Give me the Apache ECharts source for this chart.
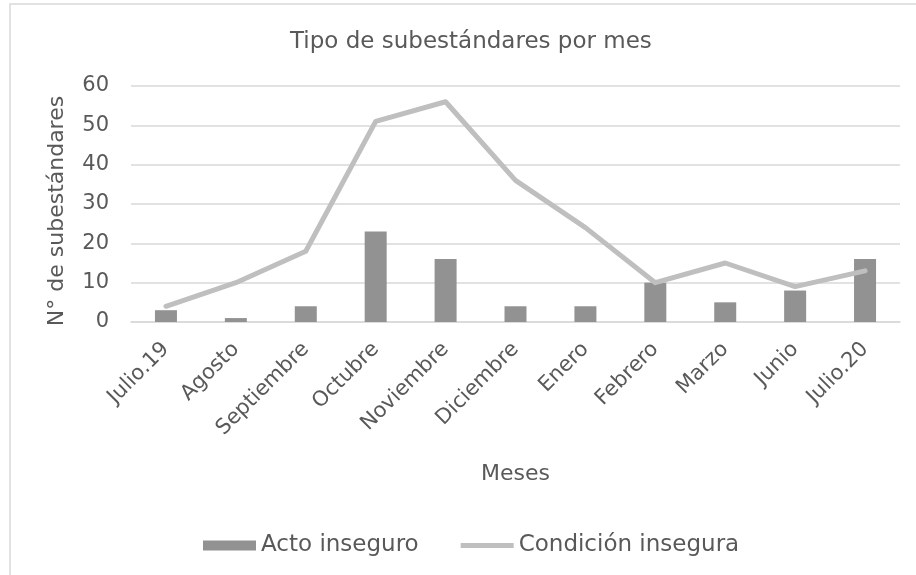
<!DOCTYPE html>
<html>
<head>
<meta charset="utf-8">
<script src="https://cdn.jsdelivr.net/npm/echarts@6/dist/echarts.min.js"></script>
<style>
  html, body { margin: 0; padding: 0; background: #fff; }
  #main { width: 916px; height: 575px; }
</style>
</head>
<body>
<div id="main"></div>
<script>
// datos
const meses = ['Julio.19', 'Agosto', 'Septiembre', 'Octubre', 'Noviembre', 'Diciembre',
  'Enero', 'Febrero', 'Marzo', 'Junio', 'Julio.20'];
const actoInseguro = [3, 1, 4, 23, 16, 4, 4, 10, 5, 8, 16];
const condicionInsegura = [4, 10, 18, 51, 56, 36, 24, 10, 15, 9, 13];
const yTicks = [0, 10, 20, 30, 40, 50, 60];

const fuente = '"DejaVu Sans", Verdana, sans-serif';
const gris = '#595959';

const chartDom = document.getElementById('main');
const myChart = echarts.init(chartDom);

const option = {
  animation: false,
  textStyle: { fontFamily: fuente, color: gris },
  // borde del area del grafico
  graphic: [{
    type: 'rect',
    shape: { x: 10, y: 4, width: 1000, height: 1000 },
    style: { fill: 'none', stroke: '#d9d9d9', lineWidth: 1.5 },
    silent: true
  }],
  title: {
    text: 'Tipo de subestándares por mes',
    left: 290,
    top: 31,
    padding: 0,
    textStyle: { fontFamily: fuente, fontSize: 23, fontWeight: 'normal', color: gris }
  },
  grid: { left: 131, right: 16, top: 86, bottom: 253 },
  legend: {
    bottom: 18,
    left: 203,
    padding: 0,
    itemGap: 42,
    itemWidth: 53,
    itemHeight: 10,
    textStyle: { fontFamily: fuente, fontSize: 23, color: gris },
    data: [
      { name: 'Acto inseguro', icon: 'rect' },
      { name: 'Condición insegura', icon: 'path://M0,0 L53,0 L53,5 L0,5 Z' }
    ]
  },
  xAxis: {
    type: 'category',
    data: meses,
    name: 'Meses',
    nameLocation: 'middle',
    nameGap: 141,
    nameTextStyle: { fontFamily: fuente, fontSize: 22, color: gris },
    axisLine: { lineStyle: { color: '#d9d9d9', width: 1.5 } },
    axisTick: { show: false },
    axisLabel: { rotate: 45, fontFamily: fuente, fontSize: 21, color: gris, margin: 24 }
  },
  yAxis: {
    type: 'value',
    min: yTicks[0],
    max: yTicks[yTicks.length - 1],
    interval: 10,
    name: 'N° de subestándares',
    nameLocation: 'middle',
    nameGap: 63,
    nameTextStyle: { fontFamily: fuente, fontSize: 22, color: gris, padding: [0, 14, 0, 0] },
    axisLine: { show: false },
    axisTick: { show: false },
    splitLine: { lineStyle: { color: '#d9d9d9', width: 1.5 } },
    axisLabel: { fontFamily: fuente, fontSize: 21, color: gris, margin: 22 }
  },
  series: [
    {
      name: 'Acto inseguro',
      type: 'bar',
      data: actoInseguro,
      barWidth: 22,
      itemStyle: { color: '#929292' }
    },
    {
      name: 'Condición insegura',
      type: 'line',
      data: condicionInsegura,
      symbol: 'none',
      lineStyle: { color: '#bfbfbf', width: 5, cap: 'round', join: 'round' },
      itemStyle: { color: '#bfbfbf' }
    }
  ]
};

option && myChart.setOption(option);
</script>
</body>
</html>
